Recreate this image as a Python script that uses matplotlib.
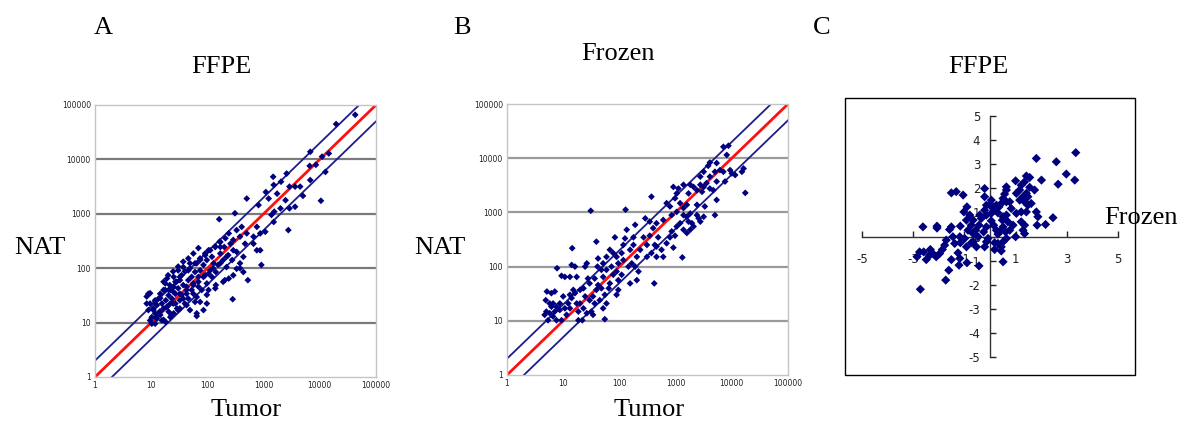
import numpy as np
import matplotlib
matplotlib.use("Agg")
import matplotlib.pyplot as plt
from matplotlib.patches import Rectangle
from matplotlib.ticker import FixedLocator, FixedFormatter

# ---------------------------------------------------------------------------
# Data (log10 of expression values, Tumor vs NAT)
# ---------------------------------------------------------------------------
ffpe_tumor_log10 = [
    4.63, 4.29, 4.16, 4.04, 3.93, 3.83, 3.82, 3.83, 4.10, 4.02, 3.70, 3.65, 3.46, 3.41, 3.31,
    3.18, 3.17, 3.04, 3.39, 3.56, 3.46, 3.30, 3.19, 3.14, 3.18, 3.44, 3.03, 2.91, 2.70, 2.49,
    2.21, 2.61, 2.88, 2.94, 2.82, 2.70, 2.67, 2.82, 2.94, 2.88, 2.96, 2.52, 2.64, 2.46, 2.38,
    2.32, 2.23, 2.41, 2.58, 2.64, 2.72, 2.45, 2.52, 2.44, 2.34, 2.31, 2.38, 2.15, 2.11, 2.08,
    2.23, 2.14, 2.02, 1.96, 1.99, 1.93, 1.87, 1.81, 1.87, 1.96, 1.99, 2.02, 1.99, 1.84, 1.72,
    1.66, 1.78, 1.84, 1.75, 1.66, 1.63, 1.75, 1.78, 1.93, 1.81, 1.54, 1.51, 1.57, 1.48, 1.51,
    1.57, 1.66, 1.69, 1.51, 1.43, 1.40, 1.34, 1.31, 1.37, 1.43, 1.46, 1.40, 1.28, 1.25, 1.22,
    1.26, 1.19, 1.22, 1.31, 1.34, 1.16, 1.13, 1.07, 1.10, 1.04, 1.15, 1.07, 1.01, 1.10, 0.98,
    1.19, 1.26, 0.95, 0.98, 0.95, 1.01, 1.07, 0.92, 1.31, 1.43, 1.28, 1.34, 1.16, 1.51, 1.60,
    1.63, 1.72, 1.81, 1.90, 2.08, 2.15, 2.23, 2.34, 2.46, 2.58, 2.52, 2.05, 1.57, 1.69, 1.48,
    1.40, 2.23, 2.30, 3.09, 3.24, 3.56,
    0.92, 0.98, 1.07, 1.16, 1.25, 1.33, 1.39, 1.45, 1.51, 1.60, 1.69, 1.78, 1.87, 1.96, 2.05,
    2.14, 2.22, 1.16, 1.28, 1.39, 1.54, 1.63, 1.75, 1.84, 1.93, 2.02, 2.10, 2.19, 2.28, 2.37,
    1.22, 1.30, 1.39, 1.48, 1.57, 1.66, 1.75, 1.84, 1.04, 1.10, 1.22, 1.36, 1.48, 1.63, 1.81,
    1.87, 1.99, 2.14, 2.28, 2.46, 2.58,
]
ffpe_nat_log10 = [
    4.82, 4.65, 4.11, 4.05, 3.90, 4.14, 3.88, 3.62, 3.77, 3.24, 3.33, 3.50, 3.50, 3.74, 3.59,
    3.53, 3.68, 3.40, 3.25, 3.13, 3.10, 3.10, 3.04, 2.98, 2.85, 2.70, 2.67, 3.16, 3.28, 3.01,
    2.90, 2.76, 2.76, 2.64, 2.58, 2.64, 2.45, 2.45, 2.33, 2.33, 2.06, 2.30, 2.21, 2.33, 2.64,
    2.55, 2.48, 2.45, 2.09, 1.93, 1.78, 1.43, 1.99, 2.15, 2.02, 1.78, 1.81, 1.69, 2.09, 2.21,
    2.27, 2.39, 2.33, 2.27, 2.15, 2.06, 2.15, 2.09, 1.96, 1.87, 1.72, 1.60, 1.35, 1.66, 1.84,
    1.96, 1.93, 1.84, 1.72, 1.78, 1.66, 1.53, 1.38, 1.23, 1.12, 1.87, 1.78, 1.69, 1.63, 1.53,
    1.44, 1.44, 1.23, 1.26, 1.75, 1.66, 1.60, 1.50, 1.44, 1.35, 1.26, 1.17, 1.81, 1.72, 1.60,
    1.41, 1.35, 1.26, 1.20, 1.10, 1.53, 1.44, 1.41, 1.32, 1.26, 1.20, 1.17, 1.10, 1.07, 1.04,
    1.04, 1.01, 1.53, 1.35, 1.23, 0.98, 0.98, 1.35, 1.60, 1.53, 1.29, 1.35, 1.14, 1.41, 1.35,
    1.53, 1.60, 1.47, 1.60, 1.84, 1.93, 2.09, 2.21, 2.52, 2.58, 2.70, 1.96, 2.02, 2.09, 1.96,
    1.84, 2.39, 2.39, 3.28, 3.37, 3.50,
    1.48, 1.54, 1.38, 1.45, 1.60, 1.69, 1.57, 1.75, 1.84, 1.94, 2.00, 2.09, 2.18, 2.24, 2.33,
    2.40, 2.49, 1.20, 1.29, 1.35, 1.51, 1.60, 1.69, 1.75, 1.84, 1.90, 2.00, 2.06, 2.15, 2.24,
    1.75, 1.87, 1.94, 2.03, 2.12, 2.18, 2.27, 2.37, 1.23, 1.11, 1.05, 1.14, 1.23, 1.32, 1.17,
    1.38, 1.51, 1.63, 1.75, 1.87, 2.00,
]

frozen_tumor_log10 = [
    3.94, 3.85, 3.91, 3.61, 3.58, 3.73, 3.79, 3.70, 3.50, 3.44, 3.61, 3.85, 4.00, 4.06, 3.97,
    4.18, 4.21, 4.24, 3.70, 2.96, 3.05, 3.14, 3.26, 3.32, 3.44, 3.50, 3.23, 3.38, 3.47, 3.55,
    3.61, 3.67, 3.52, 3.02, 2.99, 2.84, 2.90, 3.08, 3.20, 3.14, 3.02, 2.93, 3.14, 3.26, 3.20,
    3.38, 3.41, 3.23, 3.08, 3.02, 2.93, 2.99, 3.14, 2.90, 2.96, 3.12, 2.78, 2.66, 2.57, 2.46,
    2.54, 2.60, 2.69, 2.54, 2.43, 2.63, 2.49, 2.57, 2.37, 2.28, 2.25, 2.13, 2.10, 2.25, 2.19,
    2.31, 2.22, 2.16, 2.28, 2.34, 2.31, 2.19, 2.62, 2.11, 1.49, 2.07, 2.04, 1.95, 2.07, 1.98,
    1.89, 1.92, 1.83, 1.77, 1.71, 1.86, 1.95, 2.04, 1.89, 1.98, 1.83, 1.71, 1.68, 1.77, 1.62,
    1.59, 1.61, 1.56, 1.62, 1.68, 1.59, 1.53, 1.47, 1.56, 1.65, 1.74, 1.77, 1.71, 1.74, 1.95,
    1.98, 1.81, 1.47, 1.44, 1.42, 1.39, 1.36, 1.30, 1.39, 1.30, 1.36, 1.50, 1.42, 1.53, 1.24,
    1.27, 1.18, 1.21, 1.12, 1.15, 1.09, 1.12, 1.16, 1.15, 1.21, 1.24, 1.12, 1.03, 0.97, 0.89,
    1.00, 0.94, 1.03, 1.06, 0.94, 0.88, 0.85, 0.82, 0.88, 0.79, 0.76, 0.73, 0.70, 0.67, 0.71,
    0.79, 0.85, 0.69, 0.76, 0.82, 0.97, 1.27, 1.34, 2.66, 2.75, 2.78, 2.66, 2.49, 2.84, 3.20,
    3.26, 3.32, 3.29, 3.44, 3.50, 3.38, 3.73, 3.88, 3.73,
]
frozen_nat_log10 = [
    4.23, 4.21, 4.06, 3.92, 3.86, 3.91, 3.78, 3.75, 3.75, 3.66, 3.66, 3.75, 3.72, 3.69, 3.78,
    3.75, 3.81, 3.36, 2.95, 3.47, 3.44, 3.51, 3.51, 3.47, 3.51, 3.47, 3.35, 3.41, 3.38, 3.54,
    3.44, 3.41, 3.11, 3.35, 3.26, 3.17, 3.11, 3.17, 3.14, 3.08, 3.01, 2.95, 2.95, 2.98, 2.92,
    2.95, 2.89, 2.83, 2.80, 2.74, 2.65, 2.57, 2.68, 2.54, 2.35, 2.17, 2.86, 2.80, 3.29, 2.89,
    2.83, 2.71, 2.54, 2.57, 2.54, 2.40, 2.40, 2.25, 2.31, 2.77, 2.54, 2.68, 2.52, 2.40, 2.31,
    2.18, 2.06, 2.00, 2.00, 1.91, 1.75, 1.69, 1.69, 3.05, 3.03, 2.40, 2.25, 2.18, 2.12, 2.06,
    2.25, 2.54, 2.31, 2.18, 2.06, 2.00, 1.91, 1.85, 1.85, 1.75, 1.69, 1.81, 1.94, 1.94, 2.15,
    2.46, 2.00, 1.78, 1.66, 1.60, 1.57, 1.45, 1.38, 1.32, 1.38, 1.48, 1.32, 1.23, 1.03, 1.48,
    1.57, 1.60, 1.69, 1.78, 2.06, 2.00, 1.60, 1.57, 1.45, 1.32, 1.23, 1.17, 1.14, 1.11, 1.32,
    1.01, 1.57, 1.51, 1.48, 1.42, 1.32, 1.23, 2.34, 2.03, 2.00, 1.81, 1.81, 1.81, 1.83, 1.97,
    1.45, 1.32, 1.23, 1.11, 1.20, 1.26, 1.17, 1.08, 1.01, 1.26, 1.14, 1.01, 1.17, 1.11, 1.54,
    1.51, 1.54, 1.38, 1.32, 1.32, 1.01, 1.17, 1.01, 2.37, 2.31, 2.18, 2.18, 2.18, 2.43, 2.62,
    2.68, 2.74, 2.80, 2.83, 2.92, 3.14, 3.23, 3.57, 3.57,
]

# Log-ratio comparison (Frozen on x, FFPE on y)
ratio_frozen = [
    3.35, 1.81, 2.59, 2.98, 3.31, 2.66, 2.01, 1.42, 1.55, 1.35, 1.22, 1.00, 1.74, 1.55, 1.42,
    1.48, 1.29, 1.16, 1.35, 1.03, 0.64, 0.64, 0.57, 0.51, 0.44, 0.77, 0.83, 0.35, 0.25, 0.12,
    -0.01, -0.14, -0.21, -0.14, 0.05, 0.18, 0.31, 0.51, 0.64, 1.03, 1.22, 1.42, 1.81, 1.87, 2.46,
    2.17, 1.84, 1.35, 1.22, 1.29, 1.35, 0.90, 0.77, 0.61, 0.44, 0.51, 0.31, 0.25, 0.48, 1.00,
    0.64, 0.51, 0.31, 0.44, 0.18, 0.44, 0.51, 0.18, -0.14, -0.21, -0.08, -0.25, -0.14, -0.43, -0.34,
    -0.40, -0.21, -0.21, -0.66, -0.79, -0.90, -1.05, -1.32, -1.51, -1.02, -0.92, -0.73, -0.56, -0.47, -0.66,
    -0.86, -0.99, -1.18, -1.16, -1.51, -1.58, -1.45, -1.38, -1.16, -1.71, -1.77, -1.86, -1.97, -2.10, -2.07,
    -2.07, -2.62, -2.33, -2.23, -2.36, -2.49, -2.59, -2.75, -2.85, -2.72, -1.73, -1.61, -1.51, -1.25, -1.21,
    -1.18, -0.90, -0.43, -0.92, -0.73, -0.53, -0.66, 0.05, 0.14, 0.70, 1.48, 1.61, 1.16, 0.64, 0.05,
]
ratio_ffpe = [
    3.48, 3.24, 3.10, 2.59, 2.34, 2.17, 2.34, 2.51, 2.45, 2.27, 2.13, 2.31, 1.93, 2.04, 1.79,
    1.65, 1.65, 1.51, 1.44, 1.79, 2.06, 1.93, 1.76, 1.58, 1.37, 1.44, 1.16, 1.23, 1.30, 1.23,
    1.30, 1.30, 1.09, 0.89, 0.96, 1.09, 0.98, 0.82, 0.89, 0.96, 1.02, 1.02, 1.02, 0.82, 0.78,
    0.50, 0.47, 0.47, 0.61, 0.26, 0.12, 0.47, 0.26, 0.19, 0.26, 0.40, 0.10, 0.26, 0.68, -0.01,
    -0.08, -0.22, -0.29, -0.43, -0.54, -0.60, -1.05, -0.26, -0.22, -0.43, -0.08, 0.19, 0.40, 0.47, 0.75,
    0.89, 1.65, 1.99, 0.68, 0.89, 1.23, 1.72, 1.86, 1.81, 1.02, 0.68, 0.47, 0.26, -0.01, 0.12,
    0.26, -0.08, -0.01, 0.43, 0.40, 0.29, -0.01, -0.29, -0.26, -0.15, -0.36, -0.54, -0.71, -0.84, 0.43,
    0.35, 0.40, -0.54, -0.71, -0.78, -0.96, -0.64, -0.64, -0.84, -2.19, -1.81, -1.40, -0.96, -0.68, -1.19,
    -0.91, -1.09, -1.22, -0.43, -0.26, -0.43, -0.22, 0.65, 0.47, 0.61, 1.30, 1.37, 1.93, 1.44, 1.51,
]

log_ticks = [1, 10, 100, 1000, 10000, 100000]
log_tick_labels = ["1", "10", "100", "1000", "10000", "100000"]
c_xticks = [-5, -3, -1, 1, 3, 5]
c_yticks = [-5, -4, -3, -2, -1, 0, 1, 2, 3, 4, 5]

# ---------------------------------------------------------------------------
W, H = 1184, 421
fig = plt.figure(figsize=(W / 100, H / 100), dpi=100)
fig.patch.set_facecolor("white")

SERIF = ["Liberation Serif", "DejaVu Serif"]
NAVY = "#00007f"
LINE_BLUE = "#1c1c8c"


def box(left, top, right, bottom):
    return [left / W, 1 - bottom / H, (right - left) / W, (bottom - top) / H]


def ftext(x, y, s, size=19, **kw):
    fig.text(x / W, 1 - y / H, s, fontsize=size, family=SERIF,
             ha="center", va="center", **kw)


def log_panel(ax, tumor_log, nat_log, grid_color):
    ax.set_xscale("log")
    ax.set_yscale("log")
    ax.set_xlim(1, 1e5)
    ax.set_ylim(1, 1e5)
    for v in log_ticks[1:-1]:
        ax.axhline(v, color=grid_color, lw=1.6, zorder=1)
    ref = np.array([1.0, 1e5])
    ax.plot(ref, ref * 2, color=LINE_BLUE, lw=1.3, zorder=2)
    ax.plot(ref, ref / 2, color=LINE_BLUE, lw=1.3, zorder=2)
    ax.plot(ref, ref, color="#ff1010", lw=2.0, zorder=2)
    ax.scatter(10 ** np.array(tumor_log), 10 ** np.array(nat_log), marker="D",
               s=12, color=NAVY, edgecolors="none", zorder=3)
    for side in ax.spines.values():
        side.set_color("#c4c4c4")
        side.set_linewidth(1.0)
    ax.xaxis.set_major_locator(FixedLocator(log_ticks))
    ax.xaxis.set_major_formatter(FixedFormatter(log_tick_labels))
    ax.yaxis.set_major_locator(FixedLocator(log_ticks))
    ax.yaxis.set_major_formatter(FixedFormatter(log_tick_labels))
    ax.xaxis.set_minor_locator(FixedLocator([]))
    ax.yaxis.set_minor_locator(FixedLocator([]))
    ax.tick_params(length=0, labelsize=5.5, pad=3, colors="#222222")


axA = fig.add_axes(box(95, 105, 376, 377))
log_panel(axA, ffpe_tumor_log10, ffpe_nat_log10, "#7a7a7a")

axB = fig.add_axes(box(507, 104, 788, 375))
log_panel(axB, frozen_tumor_log10, frozen_nat_log10, "#9a9a9a")

# Panel C: quadrant scatter inside a framed box
fig.add_artist(Rectangle((845 / W, 1 - 375 / H), 290 / W, 277 / H,
                         transform=fig.transFigure, fill=False,
                         ec="black", lw=1.0))
axC = fig.add_axes(box(862, 116, 1118, 357))
axC.set_xlim(-5, 5)
axC.set_ylim(-5, 5)
axC.patch.set_alpha(0)
axC.spines["left"].set_position(("data", 0))
axC.spines["bottom"].set_position(("data", 0))
axC.spines["top"].set_visible(False)
axC.spines["right"].set_visible(False)
for s in ("left", "bottom"):
    axC.spines[s].set_color("#333333")
    axC.spines[s].set_linewidth(1.0)
axC.set_xticks(c_xticks)
axC.set_xticklabels([str(v) for v in c_xticks])
axC.set_yticks(c_yticks)
axC.set_yticklabels([str(v) for v in c_yticks])
axC.tick_params(direction="in", length=4, width=1.0, labelsize=8.5,
                colors="#222222")
axC.tick_params(axis="x", pad=12)
axC.tick_params(axis="y", pad=7)
axC.scatter(ratio_frozen, ratio_ffpe, marker="D", s=22, color=NAVY,
            edgecolors="none", zorder=3)

# Panel letters and titles
ftext(103, 28, "A")
ftext(221, 67, "FFPE")
ftext(40, 248, "NAT")
ftext(246, 410, "Tumor")
ftext(462, 28, "B")
ftext(618, 54, "Frozen")
ftext(440, 248, "NAT")
ftext(649, 410, "Tumor")
ftext(822, 28, "C")
ftext(978, 67, "FFPE")
ftext(1141, 218, "Frozen")

fig.savefig("out.png", dpi=100, facecolor="white")
